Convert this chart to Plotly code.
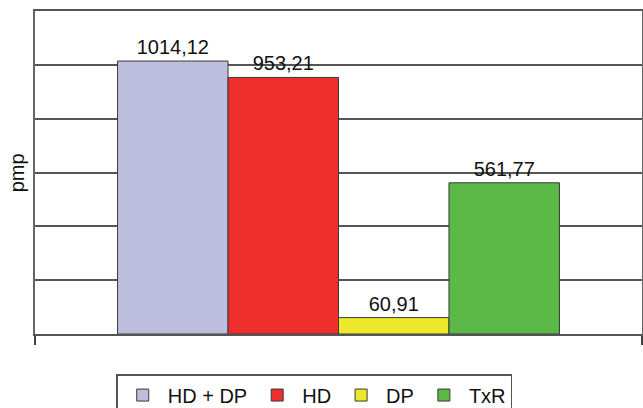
import plotly.graph_objects as go

series_names = ["HD + DP", "HD", "DP", "TxR"]
series_values = [1014.12, 953.21, 60.91, 561.77]
value_labels = ["1014,12", "953,21", "60,91", "561,77"]
series_colors = ["#BDBDDE", "#EE2E2A", "#EDE82B", "#5CB947"]
category = [""]

fig = go.Figure()
for name, val, lab, col in zip(series_names, series_values, value_labels, series_colors):
    fig.add_trace(go.Bar(
        x=category, y=[val], name=name,
        marker=dict(color=col, line=dict(color="#3a3a3a", width=1)),
        text=[lab], textposition="outside", cliponaxis=False,
        textfont=dict(family="Liberation Sans, Arial, sans-serif", size=20, color="#111"),
    ))

fig.update_layout(
    width=643, height=408,
    margin=dict(l=35, r=1, t=11, b=74, autoexpand=False),
    paper_bgcolor="white", plot_bgcolor="white",
    barmode="group", bargap=0.272, bargroupgap=0,
    font=dict(family="Liberation Sans, Arial, sans-serif", size=20, color="#111"),
    showlegend=True,
    legend=dict(orientation="h", x=0.46, xanchor="center", y=-0.124, yanchor="top",
                bordercolor="#555", borderwidth=1.5, font=dict(size=20),
                itemwidth=40, traceorder="normal"),
)
fig.update_yaxes(range=[0, 1200], dtick=200, showticklabels=False, ticks="",
                 showgrid=True, gridcolor="#555", gridwidth=1.5,
                 showline=True, linecolor="#666", linewidth=1.5, mirror=True,
                 zeroline=False)
fig.update_xaxes(showticklabels=False, ticks="outside", tickson="boundaries",
                 ticklen=9, tickcolor="#444", tickwidth=1.5,
                 showline=True, linecolor="#555", linewidth=2, mirror=True,
                 showgrid=False)
fig.add_annotation(text="pmp", textangle=-90, xref="paper", yref="paper",
                   x=-0.03, xanchor="center", y=0.5, yanchor="middle",
                   showarrow=False, font=dict(size=20, color="#111"))

fig.write_html("out.html", config={"displayModeBar": False},
               post_script="document.body.style.margin='0';document.body.style.overflow='hidden';")
